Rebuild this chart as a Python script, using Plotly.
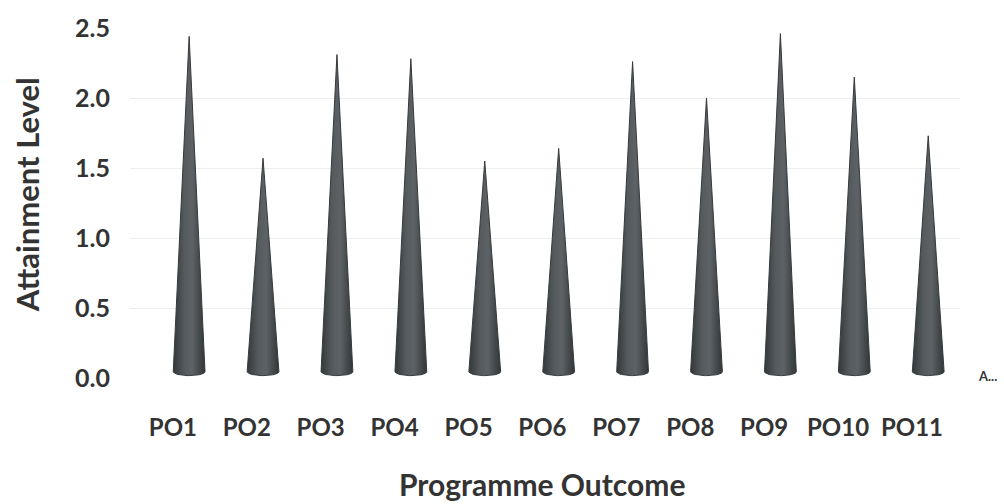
import numpy as np
import plotly.graph_objects as go

categories = ["PO1", "PO2", "PO3", "PO4", "PO5", "PO6", "PO7", "PO8", "PO9", "PO10", "PO11"]
attainment = [2.44, 1.57, 2.31, 2.28, 1.55, 1.64, 2.26, 2.00, 2.46, 2.15, 1.73]
y_ticks = [0.0, 0.5, 1.0, 1.5, 2.0, 2.5]

FONT = "Lato"
TXT = "#333333"

fig = go.Figure()

half_w = 0.215      # cone base half-width in category units
base_y = 0.045      # where cone side meets base ellipse
ell_d = 0.028       # ellipse depth

theta = np.linspace(0, np.pi, 25)
for i, (cat, v) in enumerate(zip(categories, attainment)):
    xs = [i - half_w, i, i + half_w]
    ys = [base_y, v, base_y]
    xs += list(i + half_w * np.cos(theta))
    ys += list(base_y - ell_d * np.sin(theta))
    fig.add_trace(go.Scatter(
        x=xs, y=ys, mode="lines", fill="toself",
        line=dict(color="#353a3d", width=1),
        fillgradient=dict(
            type="horizontal",
            colorscale=[[0, "#33383b"], [0.35, "#545a5d"], [0.6, "#5c6265"], [1, "#313639"]],
        ),
        hoverinfo="text", text=f"{cat}: {v}",
        showlegend=False,
    ))

fig.update_layout(
    width=1004, height=504,
    margin=dict(l=130, r=44, t=22, b=126),
    paper_bgcolor="white", plot_bgcolor="white",
    font=dict(family=FONT, color=TXT),
    xaxis=dict(
        range=[-0.8, 10.43],
        tickmode="array",
        tickvals=[i - 0.22 for i in range(len(categories))],
        ticktext=categories,
        showgrid=False, zeroline=False, showline=False,
        tickfont=dict(family=FONT, size=24, color=TXT, weight="bold"),
        ticklabelstandoff=33,
    ),
    yaxis=dict(
        range=[0, 2.5],
        tickmode="array",
        tickvals=y_ticks,
        ticktext=[f"{t:.1f}" for t in y_ticks],
        showgrid=True, gridcolor="#eeeeee", gridwidth=1,
        zeroline=False, showline=False,
        tickfont=dict(family=FONT, size=25, color=TXT, weight="bold"),
        ticklabelstandoff=19,
    ),
    annotations=[
        dict(text="Attainment Level", xref="paper", yref="paper",
             x=(27 - 130) / 830, y=(378 - 192) / 356, textangle=-90,
             showarrow=False, xanchor="center", yanchor="middle",
             font=dict(family=FONT, size=31, color=TXT, weight="bold")),
        dict(text="Programme Outcome", xref="paper", yref="paper",
             x=(542 - 130) / 830, y=-(486 - 378) / 356,
             showarrow=False, xanchor="center", yanchor="middle",
             font=dict(family=FONT, size=30, color=TXT, weight="bold")),
        dict(text="A...", xref="paper", yref="paper",
             x=(988 - 130) / 830, y=-(376 - 378) / 356,
             showarrow=False, xanchor="center", yanchor="middle",
             font=dict(family=FONT, size=13, color=TXT, weight="bold")),
    ],
)

fig.write_html("out.html", config={"displayModeBar": False},
               post_script="document.body.style.margin='0';document.body.style.overflow='hidden';")
